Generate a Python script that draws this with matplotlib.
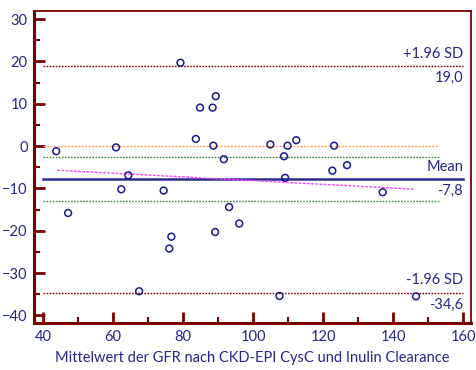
import matplotlib
matplotlib.use("Agg")
import matplotlib.pyplot as plt
from matplotlib.ticker import MultipleLocator

# mean of both GFR methods vs. their difference
mean_gfr = [43.7, 47.1, 60.8, 62.3, 64.3, 67.4, 74.4, 76.0, 76.6, 79.2,
            83.6, 84.8, 88.4, 88.6, 89.3, 89.1, 91.6, 93.1, 96.0, 104.9,
            109.8, 112.3, 108.8, 123.1, 122.6, 126.8, 109.1, 137.0, 107.5, 146.5]
diff_gfr = [-1.2, -15.8, -0.3, -10.2, -6.9, -34.3, -10.5, -24.2, -21.4, 19.7,
            1.7, 9.1, 9.1, 0.1, 11.8, -20.3, -3.1, -14.4, -18.3, 0.4,
            0.1, 1.4, -2.4, 0.1, -5.8, -4.5, -7.5, -10.9, -35.4, -35.5]

mean_diff = -7.8
upper_loa = 19.0
lower_loa = -34.6
ci_mean = [-2.6, -12.9]
regr_x = [44.0, 146.3]
regr_y = [-5.7, -10.2]

navy = "#25258a"
maroon = "#7a0000"
fs = 10.5

plt.rcParams["font.family"] = ["Lato", "DejaVu Sans"]

fig = plt.figure(figsize=(4.77, 3.70), dpi=100)
ax = fig.add_axes([0.0723, 0.127, 0.915, 0.843])

ax.plot([40, 153], [0, 0], color="#ffa060", linestyle=(0, (1.5, 1)), linewidth=1)
for c in ci_mean:
    ax.plot([40, 153], [c, c], color="#3a8a3a", linestyle=(0, (1.2, 1)), linewidth=1)
ax.plot([40, 160], [upper_loa, upper_loa], color="#8b0000", linestyle=(0, (1.2, 1)), linewidth=1)
ax.plot([40, 160], [lower_loa, lower_loa], color="#8b0000", linestyle=(0, (1.2, 1)), linewidth=1)
ax.plot([40, 160], [mean_diff, mean_diff], color="#2b2b8f", linewidth=1.8)
ax.plot(regr_x, regr_y, color="#ff40ff", linestyle=(0, (2, 1)), linewidth=1)

ax.scatter(mean_gfr, diff_gfr, s=24, facecolors="none", edgecolors="#1a1a8c",
           linewidths=1.1, zorder=5)

# limits of agreement and mean annotations
tx = 160
ax.text(tx, 20.2, "+1.96 SD", ha="right", va="bottom", color=navy, fontsize=fs)
ax.text(tx, 17.8, "19,0", ha="right", va="top", color=navy, fontsize=fs)
ax.text(tx, -6.6, "Mean", ha="right", va="bottom", color=navy, fontsize=fs)
ax.text(tx, -9.0, "-7,8", ha="right", va="top", color=navy, fontsize=fs)
ax.text(tx, -33.4, "-1.96 SD", ha="right", va="bottom", color=navy, fontsize=fs)
ax.text(tx, -35.8, "-34,6", ha="right", va="top", color=navy, fontsize=fs)

ax.set_xlim(37.5, 162.2)
ax.set_ylim(-41.8, 31.9)
ax.xaxis.set_major_locator(MultipleLocator(20))
ax.xaxis.set_minor_locator(MultipleLocator(10))
ax.yaxis.set_major_locator(MultipleLocator(10))
ax.yaxis.set_minor_locator(MultipleLocator(5))

ax.tick_params(which="major", direction="in", length=8, width=2, color=maroon,
               labelcolor=navy, labelsize=fs, pad=5)
ax.tick_params(which="minor", direction="in", length=4, width=1.5, color=maroon)

for side in ["left", "bottom"]:
    ax.spines[side].set_color(maroon)
    ax.spines[side].set_linewidth(2.2)
for side in ["top", "right"]:
    ax.spines[side].set_color(maroon)
    ax.spines[side].set_linewidth(1.3)

ax.set_xlabel("Mittelwert der GFR nach CKD-EPI CysC und Inulin Clearance",
              color=navy, fontsize=fs, labelpad=5)

fig.savefig("out.png", dpi=100)
